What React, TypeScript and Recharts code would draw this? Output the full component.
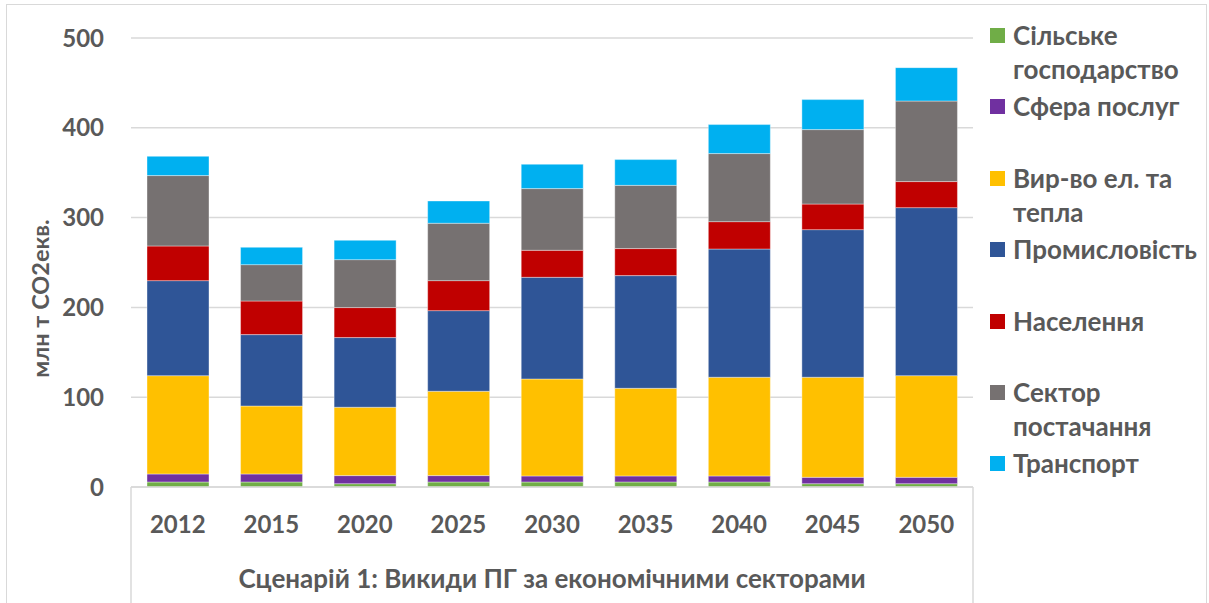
import React from 'react';
import { BarChart, Bar, XAxis, YAxis, CartesianGrid } from 'recharts';

const years = ['2012', '2015', '2020', '2025', '2030', '2035', '2040', '2045', '2050'];
const agriculture = [5.6, 5.6, 3.7, 5.6, 5.6, 5.6, 5.6, 3.7, 3.7];
const services = [8.9, 8.9, 9.0, 7.1, 6.7, 6.7, 6.7, 7.1, 7.1];
const power = [109.5, 75.7, 76.1, 93.9, 108.0, 97.6, 109.9, 111.4, 113.2];
const industry = [105.8, 79.5, 77.6, 89.8, 113.2, 125.5, 142.8, 164.4, 187.1];
const residential = [38.6, 37.4, 33.4, 33.4, 30.1, 30.1, 30.5, 28.5, 29.0];
const supply = [78.4, 40.5, 53.4, 63.9, 68.7, 70.4, 75.8, 82.9, 89.7];
const transport = [21.4, 19.3, 21.5, 24.8, 27.1, 28.7, 32.3, 33.4, 37.2];

const seriesNames = [
  'Сільське господарство',
  'Сфера послуг',
  'Вир-во ел. та тепла',
  'Промисловість',
  'Населення',
  'Сектор постачання',
  'Транспорт',
];
const seriesColors = ['#70AD47', '#7030A0', '#FFC000', '#2F5597', '#C00000', '#767171', '#00B0F0'];
const yTicks = [0, 100, 200, 300, 400, 500];
const yAxisTitle = 'млн т CO2екв.';
const categoryTitle = 'Сценарій 1: Викиди ПГ за економічними секторами';

const seriesValues = [agriculture, services, power, industry, residential, supply, transport];
const seriesKeys = seriesValues.map((_, k) => 's' + k);
const data = years.map((year, i) => {
  const row: Record<string, string | number> = { year };
  seriesValues.forEach((arr, k) => {
    row[seriesKeys[k]] = arr[i];
  });
  return row;
});

const FONT = "Lato, 'Open Sans', 'Noto Sans', sans-serif";
const TEXT = '#595959';
const GRID = '#D9D9D9';

const CategoryBox = (props: any) => {
  const vb = props.viewBox || {};
  const { x, y, width, height } = vb;
  return (
    <g>
      <line x1={x} y1={y} x2={x} y2={y + height + 20} stroke={GRID} strokeWidth={1.5} />
      <line x1={x + width} y1={y} x2={x + width} y2={y + height + 20} stroke={GRID} strokeWidth={1.5} />
      <text
        x={x + width / 2}
        y={y + 91}
        textAnchor="middle"
        dominantBaseline="central"
        fill={TEXT}
        fontSize={26}
        fontWeight={700}
        fontFamily={FONT}
      >
        {categoryTitle}
      </text>
    </g>
  );
};

const YTitle = (props: any) => {
  const vb = props.viewBox || {};
  const cx = vb.x - 31;
  const cy = vb.y + vb.height / 2 + 36;
  return (
    <text
      x={cx}
      y={cy}
      transform={`rotate(-90 ${cx} ${cy})`}
      textAnchor="middle"
      dominantBaseline="central"
      fill={TEXT}
      fontSize={23.5}
      fontWeight={700}
      fontFamily={FONT}
    >
      {yAxisTitle}
    </text>
  );
};

const SLOT = 71.4;

const LegendBox = () => (
  <div style={{ position: 'absolute', left: 990, top: 18, width: 215 }}>
    {seriesNames.map((name, k) => (
      <div key={name} style={{ position: 'absolute', left: 0, top: k * SLOT, width: 215 }}>
        <div
          style={{
            position: 'absolute',
            left: 0,
            top: 10,
            width: 15,
            height: 15,
            background: seriesColors[k],
          }}
        />
        <div
          style={{
            position: 'absolute',
            left: 23,
            top: 0,
            width: 192,
            lineHeight: '34px',
            fontSize: 26,
            fontWeight: 700,
            fontFamily: FONT,
            color: TEXT,
            whiteSpace: 'normal',
          }}
        >
          {name}
        </div>
      </div>
    ))}
  </div>
);

export default function App() {
  return (
    <div
      style={{
        position: 'absolute',
        left: 0,
        top: 0,
        width: 1209,
        height: 603,
        overflow: 'hidden',
        background: '#ffffff',
      }}
    >
      <div
        style={{
          position: 'absolute',
          left: 6,
          top: 4,
          width: 1199,
          height: 700,
          border: `1.5px solid ${GRID}`,
        }}
      />
      <div style={{ position: 'absolute', left: 0, top: 0 }}>
        <BarChart
          width={1209}
          height={603}
          data={data}
          margin={{ top: 38, right: 236, bottom: 0, left: 71 }}
          barSize={62}
        >
          <CartesianGrid vertical={false} stroke={GRID} strokeWidth={1.5} />
          <XAxis
            dataKey="year"
            height={116}
            interval={0}
            tickLine={false}
            tickSize={0}
            tickMargin={29}
            axisLine={{ stroke: GRID, strokeWidth: 1.5 }}
            tick={{ fill: TEXT, fontSize: 24, fontWeight: 700, fontFamily: FONT }}
            label={<CategoryBox />}
          />
          <YAxis
            width={60}
            domain={[0, 500]}
            ticks={yTicks}
            axisLine={false}
            tickLine={false}
            tickSize={0}
            tickMargin={27}
            tick={{ fill: TEXT, fontSize: 24, fontWeight: 700, fontFamily: FONT }}
            label={<YTitle />}
          />
          {seriesKeys.map((key, k) => (
            <Bar
              key={key}
              dataKey={key}
              name={seriesNames[k]}
              stackId="a"
              fill={seriesColors[k]}
              stroke="#ffffff"
              strokeOpacity={0.5}
              strokeWidth={0.75}
              isAnimationActive={false}
            />
          ))}
        </BarChart>
      </div>
      <LegendBox />
    </div>
  );
}
